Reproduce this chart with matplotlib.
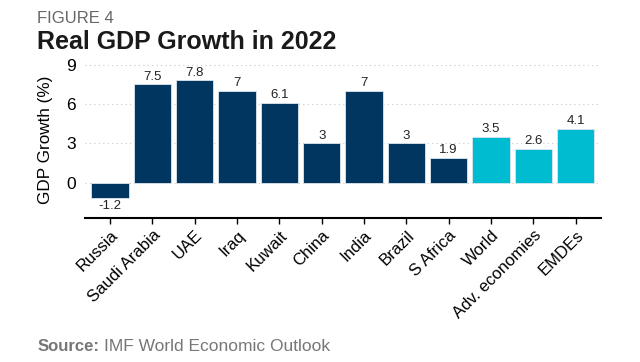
import matplotlib.pyplot as plt
import numpy as np

plt.rcParams['font.family'] = ['Liberation Sans', 'DejaVu Sans']

# data
countries = ['Russia', 'Saudi Arabia', 'UAE', 'Iraq', 'Kuwait', 'China',
             'India', 'Brazil', 'S Africa', 'World', 'Adv. economies', 'EMDEs']
growth = [-1.2, 7.5, 7.8, 7, 6.1, 3, 7, 3, 1.9, 3.5, 2.6, 4.1]
labels = ['-1.2', '7.5', '7.8', '7', '6.1', '3', '7', '3', '1.9', '3.5', '2.6', '4.1']
aggregates = ['World', 'Adv. economies', 'EMDEs']

navy = '#003660'
cyan = '#00BCD1'


def main():
    fig = plt.figure(figsize=(6.4, 3.62), dpi=100)
    ax = fig.add_axes([0.133, 0.398, 0.806, 0.434])

    x = np.arange(len(countries))
    colors = [cyan if c in aggregates else navy for c in countries]
    bars = ax.bar(x, growth, width=0.88, color=colors, edgecolor='#dde6ee',
                  linewidth=0.6, zorder=3)

    for rect, lab, v in zip(bars, labels, growth):
        cx = rect.get_x() + rect.get_width() * 0.5
        if v >= 0:
            ax.text(cx, v + 0.12, lab, ha='center', va='bottom', fontsize=9.5,
                    color='#222222')
        else:
            ax.text(cx, v - 0.12, lab, ha='center', va='top', fontsize=9.5,
                    color='#222222')

    ax.set_xlim(-0.59, len(countries) - 0.4)
    ax.set_ylim(-2.7, 9.3)
    ax.set_yticks([0, 3, 6, 9])
    ax.yaxis.set_tick_params(length=0, labelsize=12.5, pad=6.5)
    ax.set_xticks(x)
    ax.set_xticklabels(countries, rotation=45, ha='right',
                       rotation_mode='anchor', fontsize=12)
    ax.xaxis.set_tick_params(length=4, width=1, pad=3)
    ax.set_ylabel('GDP Growth (%)', fontsize=12.3)
    ax.yaxis.set_label_coords(-0.062, 0.5)

    for s in ['top', 'right', 'left']:
        ax.spines[s].set_visible(False)
    ax.spines['bottom'].set_linewidth(1.5)

    ax.set_axisbelow(True)
    ax.yaxis.grid(True, color='#c8c8c8', linestyle=(0, (1, 3)), linewidth=0.8)

    fig.text(0.058, 0.936, 'FIGURE 4', fontsize=12, color='#666666',
             va='baseline')
    fig.text(0.058, 0.865, 'Real GDP Growth in 2022', fontsize=18,
             fontweight='bold', color='#1a1a1a', va='baseline')
    fig.text(0.058, 0.03, 'Source:', fontsize=12, fontweight='bold',
             color='#777777')
    fig.text(0.162, 0.03, 'IMF World Economic Outlook', fontsize=12.5,
             color='#777777')

    plt.savefig('out.png', dpi=100)


if __name__ == '__main__':
    main()
